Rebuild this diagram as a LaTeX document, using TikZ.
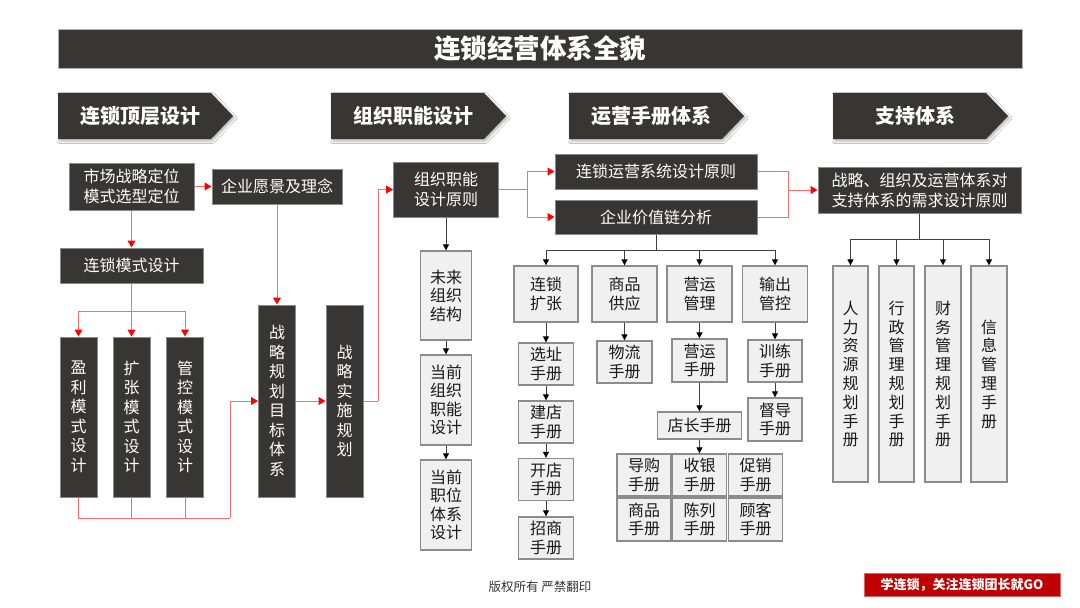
\documentclass[tikz,border=0pt]{standalone}
\usepackage{fontspec}
\setmainfont{Noto Sans CJK SC}
\usetikzlibrary{arrows.meta,shadows.blur}
\definecolor{dk}{HTML}{383634}
\definecolor{lt}{HTML}{F0F0F0}
\definecolor{lbd}{HTML}{8C8C8C}
\definecolor{dbd}{HTML}{8A8A8A}
\definecolor{rl}{HTML}{FF6A6A}
\definecolor{badge}{HTML}{C00000}
\tikzset{
 dbox/.style={draw=dbd, line width=1pt, fill=dk, text=white, inner sep=0pt, align=center, font=\fontsize{16}{20}\selectfont},
 vdbox/.style={dbox, font=\fontsize{16}{19.5}\selectfont},
 lbox/.style={draw=lbd, line width=1.3pt, fill=lt, text=black!90, inner sep=0pt, align=center, font=\fontsize{16}{18.5}\selectfont},
 vlbox/.style={lbox, font=\fontsize{16}{18.8}\selectfont},
 hdr/.style={fill=dk, blur shadow={shadow xshift=1.5pt, shadow yshift=-2pt, shadow blur radius=2.5pt, shadow opacity=30}},
 hdrtext/.style={text=white, inner sep=0pt, font=\bfseries\fontsize{20}{24}\selectfont},
 rline/.style={draw=rl, line width=1pt},
 rarrow/.style={rline, -{Triangle[length=7pt,width=8pt,color=red]}},
 bline/.style={draw=black!75, line width=1pt},
 barrow/.style={bline, -{Triangle[length=6pt,width=6pt,color=black]}},
}
\newcommand\hdrshape[3]{%
 \fill[hdr] (#2,93) -- ++(153,0) -- ++(22,23) -- ++(-22,23) -- ++(-153,0) -- cycle;
 \node[hdrtext] (#1) at ({#2+82},116) {#3};}
\begin{document}
\begin{tikzpicture}[x=1pt,y=-1pt]
\fill[white] (0,0) rectangle (1080,608);
\useasboundingbox (0,0) rectangle (1080,608);

% title
\node[draw=gray!60, fill=dk, minimum width=964pt, minimum height=39pt, inner sep=0pt, text=white, font=\bfseries\fontsize{26.5}{30}\selectfont] (title) at (540,48.5) {连锁经营体系全貌};

% headers
\hdrshape{h1}{58}{连锁顶层设计}
\hdrshape{h2}{331}{组织职能设计}
\hdrshape{h3}{569}{运营手册体系}
\hdrshape{h4}{833}{支持体系}

% column 1
\node[dbox, minimum width=125pt, minimum height=47pt] (m1) at (131.5,186.5) {市场战略定位\\模式选型定位};
\node[dbox, minimum width=130pt, minimum height=35pt] (m2) at (277,186.5) {企业愿景及理念};
\node[dbox, minimum width=143pt, minimum height=35pt] (m3) at (131.5,265.5) {连锁模式设计};
\node[vdbox, minimum width=37pt, minimum height=160pt] (v1) at (78.5,417) {盈\\利\\模\\式\\设\\计};
\node[vdbox, minimum width=37pt, minimum height=160pt] (v2) at (131.5,417) {扩\\张\\模\\式\\设\\计};
\node[vdbox, minimum width=37pt, minimum height=160pt] (v3) at (185,417) {管\\控\\模\\式\\设\\计};
\node[vdbox, minimum width=37pt, minimum height=192pt] (s1) at (277,401) {战\\略\\规\\划\\目\\标\\体\\系};
\node[vdbox, minimum width=37pt, minimum height=192pt] (s2) at (344.5,401) {战\\略\\实\\施\\规\\划};

% column 2
\node[dbox, minimum width=105pt, minimum height=55pt] (o1) at (446,189.5) {组织职能\\设计原则};
\node[lbox, minimum width=51pt, minimum height=89pt] (o2) at (446,295.5) {未来\\组织\\结构};
\node[lbox, minimum width=51pt, minimum height=90pt] (o3) at (446,400) {当前\\组织\\职能\\设计};
\node[lbox, minimum width=51pt, minimum height=90pt] (o4) at (446,505) {当前\\职位\\体系\\设计};

% column 3
\node[dbox, minimum width=202pt, minimum height=35pt] (r1) at (656,171.5) {连锁运营系统设计原则};
\node[dbox, minimum width=202pt, minimum height=34pt] (r2) at (656,217) {企业价值链分析};
\node[lbox, minimum width=64pt, minimum height=56pt] (c1) at (546,294) {连锁\\扩张};
\node[lbox, minimum width=65pt, minimum height=56pt] (c2) at (624.5,294) {商品\\供应};
\node[lbox, minimum width=65pt, minimum height=56pt] (c3) at (699.5,294) {营运\\管理};
\node[lbox, minimum width=65pt, minimum height=56pt] (c4) at (775,294) {输出\\管控};
\node[lbox, minimum width=55pt, minimum height=42pt] (a1) at (546,364) {选址\\手册};
\node[lbox, minimum width=55pt, minimum height=42pt] (a2) at (546,422) {建店\\手册};
\node[lbox, minimum width=55pt, minimum height=42pt] (a3) at (546,479.5) {开店\\手册};
\node[lbox, minimum width=55pt, minimum height=42pt] (a4) at (546,538) {招商\\手册};
\node[lbox, minimum width=55pt, minimum height=42pt] (b1) at (624.5,362) {物流\\手册};
\node[lbox, minimum width=55pt, minimum height=43pt] (d1) at (699.5,360.5) {营运\\手册};
\node[lbox, minimum width=84pt, minimum height=27pt] (d2) at (699.5,425.5) {店长手册};
\node[lbox, minimum width=54pt, minimum height=42pt] (g11) at (644,475) {导购\\手册};
\node[lbox, minimum width=54pt, minimum height=42pt] (g12) at (699.5,475) {收银\\手册};
\node[lbox, minimum width=54pt, minimum height=42pt] (g13) at (755.5,475) {促销\\手册};
\node[lbox, minimum width=54pt, minimum height=43pt] (g21) at (644,519.5) {商品\\手册};
\node[lbox, minimum width=54pt, minimum height=43pt] (g22) at (699.5,519.5) {陈列\\手册};
\node[lbox, minimum width=54pt, minimum height=43pt] (g23) at (755.5,519.5) {顾客\\手册};
\node[lbox, minimum width=54pt, minimum height=42pt] (e1) at (775,361) {训练\\手册};
\node[lbox, minimum width=54pt, minimum height=43pt] (e2) at (775,419.5) {督导\\手册};

% column 4
\node[dbox, minimum width=203pt, minimum height=46pt] (p1) at (919.5,190) {战略、组织及运营体系对\\支持体系的需求设计原则};
\node[vlbox, minimum width=35pt, minimum height=216pt] (f1) at (850.5,374) {人\\力\\资\\源\\规\\划\\手\\册};
\node[vlbox, minimum width=35pt, minimum height=216pt] (f2) at (896.5,374) {行\\政\\管\\理\\规\\划\\手\\册};
\node[vlbox, minimum width=36pt, minimum height=216pt] (f3) at (943,374) {财\\务\\管\\理\\规\\划\\手\\册};
\node[vlbox, minimum width=36pt, minimum height=216pt] (f4) at (989,374) {信\\息\\管\\理\\手\\册};

% footer
\node[text=black!80, font=\fontsize{12.5}{14}\selectfont] (copy) at (540,587) {版权所有 严禁翻印};
\node[fill=badge, draw=badge!60!white, minimum width=196pt, minimum height=23pt, inner sep=0pt, text=white, font=\bfseries\fontsize{13}{15}\selectfont] (badge) at (962,584.5) {学连锁，关注连锁团长就GO};

% red connectors
\draw[rarrow] (m1.east) -- (m2.west);
\draw[rarrow] (m1.south) -- (m3.north);
\coordinate (j1) at (131.5,311);
\draw[rline] (m3.south) -- (j1);
\draw[rarrow] (j1) -| (v1.north);
\draw[rarrow] (j1) -- (v2.north);
\draw[rarrow] (j1) -| (v3.north);
\coordinate (j2) at (230,518);
\draw[rline] (v1.south) |- (j2);
\draw[rline] (v2.south) -- (v2.south |- j2);
\draw[rline] (v3.south) -- (v3.south |- j2);
\draw[rarrow] (j2) |- (s1.west);
\draw[rarrow] (m2.south) -- (s1.north);
\draw[rarrow] (s1.east) -- (s2.west);
\coordinate (k1) at (378,401);
\draw[rline] (s2.east) -- (k1);
\draw[rarrow] (k1) |- (o1.west);
\coordinate (k2) at (527,189.5);
\draw[rline] (o1.east) -- (k2);
\draw[rarrow] (k2) |- (r1.west);
\draw[rarrow] (k2) |- (r2.west);
\coordinate (k3) at (788,190);
\draw[rline] (r1.east) -| (k3);
\draw[rline] (r2.east) -| (k3);
\draw[rarrow] (k3) -- (p1.west);

% black connectors
\draw[barrow] (o1.south) -- (o2.north);
\draw[barrow] (o2.south) -- (o3.north);
\draw[barrow] (o3.south) -- (o4.north);
\coordinate (k4) at (656,250);
\draw[bline] (r2.south) -- (k4);
\draw[barrow] (k4) -| (c1.north);
\draw[barrow] (k4) -| (c2.north);
\draw[barrow] (k4) -| (c3.north);
\draw[barrow] (k4) -| (c4.north);
\draw[barrow] (c1.south) -- (a1.north);
\draw[barrow] (a1.south) -- (a2.north);
\draw[barrow] (a2.south) -- (a3.north);
\draw[barrow] (a3.south) -- (a4.north);
\draw[barrow] (c2.south) -- (b1.north);
\draw[barrow] (c3.south) -- (d1.north);
\draw[barrow] (d1.south) -- (d2.north);
\draw[barrow] (d2.south) -- (g12.north);
\draw[barrow] (c4.south) -- (e1.north);
\draw[barrow] (e1.south) -- (e2.north);
\coordinate (k5) at (919.5,239);
\draw[bline] (p1.south) -- (k5);
\draw[barrow] (k5) -| (f1.north);
\draw[barrow] (k5) -| (f2.north);
\draw[barrow] (k5) -| (f3.north);
\draw[barrow] (k5) -| (f4.north);
\end{tikzpicture}
\end{document}
